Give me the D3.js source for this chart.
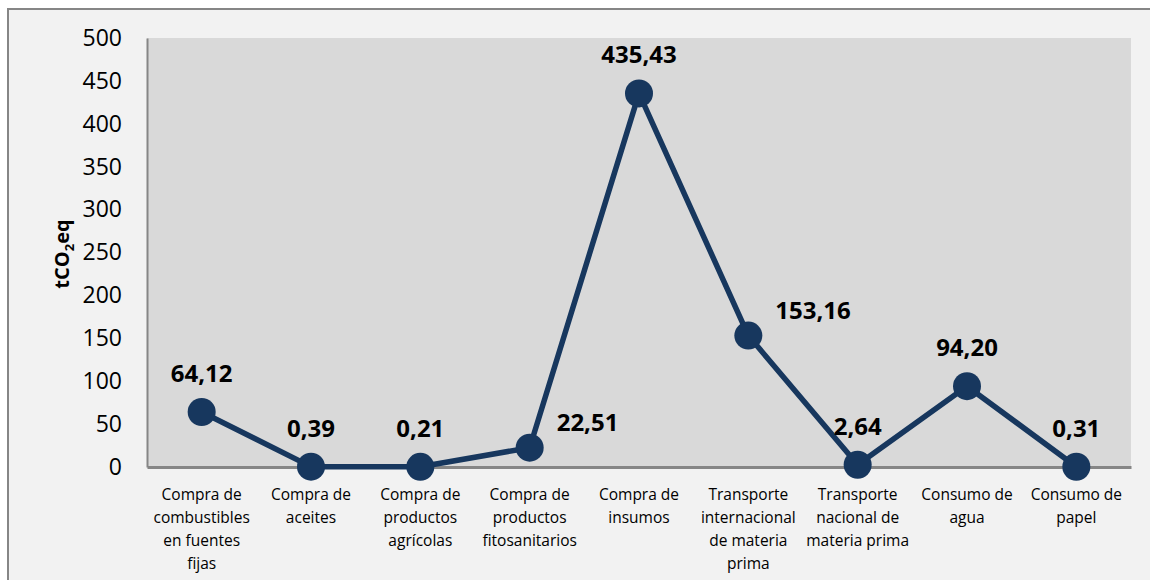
<!DOCTYPE html>
<html>
<head>
<meta charset="utf-8">
<script src="https://cdn.jsdelivr.net/npm/d3@7"></script>
<style>
  html, body { margin: 0; padding: 0; background: #ffffff; }
  svg { display: block; }
  text { font-family: "Open Sans", "Noto Sans", sans-serif; }
</style>
</head>
<body>
<svg id="chart" width="1150" height="580"></svg>
<script>
const categories = [
  "Compra de combustibles en fuentes fijas",
  "Compra de aceites",
  "Compra de productos agrícolas",
  "Compra de productos fitosanitarios",
  "Compra de insumos",
  "Transporte internacional de materia prima",
  "Transporte nacional de materia prima",
  "Consumo de agua",
  "Consumo de papel"
];
const categoryLines = [
  ["Compra de", "combustibles", "en fuentes", "fijas"],
  ["Compra de", "aceites"],
  ["Compra de", "productos", "agrícolas"],
  ["Compra de", "productos", "fitosanitarios"],
  ["Compra de", "insumos"],
  ["Transporte", "internacional", "de materia", "prima"],
  ["Transporte", "nacional de", "materia prima"],
  ["Consumo de", "agua"],
  ["Consumo de", "papel"]
];
const values = [64.12, 0.39, 0.21, 22.51, 435.43, 153.16, 2.64, 94.20, 0.31];
const labelPlacement = ["top", "top", "top", "right", "top", "right", "top", "top", "top"];
const yTicks = [0, 50, 100, 150, 200, 250, 300, 350, 400, 450, 500];

const svg = d3.select("#chart");
const W = 1150, H = 580;
const margin = { left: 147, top: 38, right: 19, bottom: 113 };

// outer frame
svg.append("rect")
  .attr("x", 8).attr("y", 9)
  .attr("width", W + 10).attr("height", H + 10)
  .attr("fill", "#f2f2f2")
  .attr("stroke", "#868686").attr("stroke-width", 2);

const x = d3.scaleBand()
  .domain(categories)
  .range([margin.left, W - margin.right])
  .paddingInner(0).paddingOuter(0);
const y = d3.scaleLinear().domain([0, 500]).range([H - margin.bottom, margin.top]);

// plot area
svg.append("rect")
  .attr("x", margin.left).attr("y", margin.top)
  .attr("width", W - margin.right - margin.left)
  .attr("height", (H - margin.bottom) - margin.top)
  .attr("fill", "#d9d9d9");

// y axis
const yAxis = svg.append("g")
  .attr("transform", `translate(${margin.left},0)`)
  .call(d3.axisLeft(y).tickValues(yTicks).tickSize(0).tickPadding(25).tickFormat(d3.format("d")));
yAxis.select(".domain").attr("stroke", "#868686").attr("stroke-width", 2);
yAxis.selectAll("text").attr("font-size", 23).attr("fill", "#000")
  .style("font-family", "'Open Sans', sans-serif");

// x axis
const xAxis = svg.append("g")
  .attr("transform", `translate(0,${H - margin.bottom})`)
  .call(d3.axisBottom(x).tickSize(0).tickFormat(""));
xAxis.select(".domain").attr("stroke", "#868686").attr("stroke-width", 3);

// x labels (multi-line)
const xl = svg.append("g");
categories.forEach((c, i) => {
  const t = xl.append("text")
    .attr("x", x(c) + x.bandwidth() / 2)
    .attr("y", 500)
    .attr("text-anchor", "middle")
    .attr("font-size", 15.5)
    .attr("fill", "#000");
  categoryLines[i].forEach((ln, j) => {
    t.append("tspan").attr("x", x(c) + x.bandwidth() / 2)
      .attr("y", 500 + j * 23).text(ln);
  });
});

// y title
const yt = svg.append("text")
  .attr("transform", `translate(69,254) rotate(-90)`)
  .attr("text-anchor", "middle")
  .attr("font-size", 20).attr("font-weight", "bold").attr("fill", "#000");
yt.append("tspan").text("tCO");
yt.append("tspan").attr("font-size", 13).attr("dy", 5).text("2");
yt.append("tspan").attr("dy", -5).text("eq");

const data = categories.map((c, i) => ({ c, v: values[i], p: labelPlacement[i] }));
const cx = d => x(d.c) + x.bandwidth() / 2;

// line
svg.append("path")
  .datum(data)
  .attr("fill", "none")
  .attr("stroke", "#17375e")
  .attr("stroke-width", 5.5)
  .attr("stroke-linejoin", "round")
  .attr("d", d3.line().x(cx).y(d => y(d.v)));

// markers
svg.append("g").selectAll("circle").data(data).join("circle")
  .attr("cx", cx).attr("cy", d => y(d.v)).attr("r", 14)
  .attr("fill", "#17375e");

// data labels
const fmt = v => v.toFixed(2).replace(".", ",");
svg.append("g").selectAll("text").data(data).join("text")
  .attr("x", d => d.p === "right" ? cx(d) + 27 : cx(d))
  .attr("y", d => d.p === "right" ? y(d.v) - 26 + 9 : y(d.v) - 39 + 9)
  .attr("text-anchor", d => d.p === "right" ? "start" : "middle")
  .attr("font-size", 24).attr("font-weight", "bold").attr("fill", "#000")
  .text(d => fmt(d.v));
</script>
</body>
</html>
